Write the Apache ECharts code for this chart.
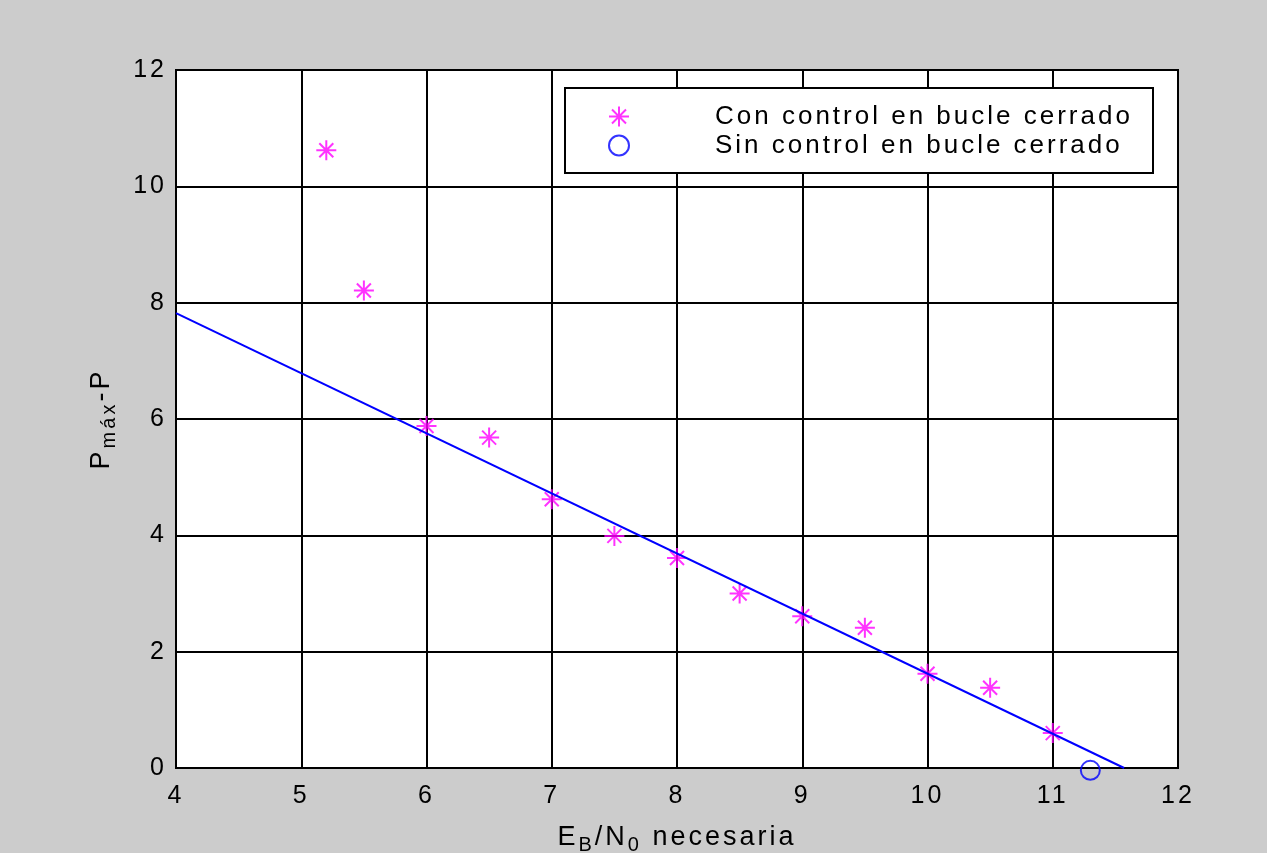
<!DOCTYPE html>
<html>
<head>
<meta charset="utf-8">
<script src="https://cdn.jsdelivr.net/npm/echarts@6/dist/echarts.min.js"></script>
<style>
html,body{margin:0;padding:0;background:#cccccc;overflow:hidden;}
#chart{width:1267px;height:853px;}
</style>
</head>
<body>
<div id="chart"></div>
<script>
// Data
const conX = [5.2, 5.5, 6, 6.5, 7, 7.5, 8, 8.5, 9, 9.5, 10, 10.5, 11];
const conY = [10.62, 8.21, 5.88, 5.68, 4.62, 3.99, 3.61, 3.0, 2.61, 2.41, 1.62, 1.38, 0.6];
const sinX = [11.3];
const sinY = [-0.04];
const fitX = [4, 11.57];
const fitY = [7.82, 0];
const seriesNames = ['Con control en bucle cerrado', 'Sin control en bucle cerrado'];
const xTicks = [4, 5, 6, 7, 8, 9, 10, 11, 12];
const yTicks = [0, 2, 4, 6, 8, 10, 12];

// MATLAB-style wide letter spacing for all canvas text
(function () {
  const P = CanvasRenderingContext2D.prototype;
  const LS = '3px';
  const mt = P.measureText, ft = P.fillText, st = P.strokeText;
  P.measureText = function (t) { this.letterSpacing = LS; return mt.call(this, t); };
  P.fillText = function () { this.letterSpacing = LS; return ft.apply(this, arguments); };
  P.strokeText = function () { this.letterSpacing = LS; return st.apply(this, arguments); };
})();

const zip = (a, b) => a.map((v, i) => [v, b[i]]);
const FONT = 'Liberation Sans, Arial, Helvetica, sans-serif';
const star = 'path://M0,-10L0,10M-10,0L10,0M-7,-7L7,7M-7,7L7,-7';
const subStyle = {fontSize: 20, padding: [16, 0, 0, 0], color: '#000', fontFamily: FONT};

const chart = echarts.init(document.getElementById('chart'), null, {renderer: 'canvas'});
chart.setOption({
  backgroundColor: '#cccccc',
  animation: false,
  textStyle: {fontFamily: FONT},
  grid: {left: 176, top: 70, right: 89, bottom: 85, containLabel: false, outerBoundsMode: 'none',
    show: true, backgroundColor: '#ffffff', borderColor: '#000000', borderWidth: 2},
  xAxis: {
    type: 'value', min: xTicks[0], max: xTicks[xTicks.length - 1], interval: 1,
    axisLine: {lineStyle: {color: '#000', width: 2}},
    axisTick: {show: false},
    splitLine: {lineStyle: {color: '#000', width: 2}},
    axisLabel: {color: '#000', fontSize: 25, margin: 14, fontFamily: FONT},
    name: 'E{sub|B}/N{sub|0} necesaria',
    nameLocation: 'middle', nameGap: 50,
    nameTextStyle: {color: '#000', fontSize: 27, fontFamily: FONT, rich: {sub: subStyle}}
  },
  yAxis: {
    type: 'value', min: yTicks[0], max: yTicks[yTicks.length - 1], interval: 2,
    axisLine: {lineStyle: {color: '#000', width: 2}},
    axisTick: {show: false},
    splitLine: {lineStyle: {color: '#000', width: 2}},
    axisLabel: {color: '#000', fontSize: 25, margin: 9, fontFamily: FONT},
    name: 'P{sub|máx}-P',
    nameLocation: 'middle', nameGap: 55, nameRotate: 90,
    nameTextStyle: {color: '#000', fontSize: 27, fontFamily: FONT, rich: {sub: subStyle}}
  },
  graphic: [{
    type: 'rect', left: 564, top: 87, z: 10,
    shape: {width: 588, height: 85},
    style: {fill: '#ffffff', stroke: '#000000', lineWidth: 2}
  }],
  legend: {
    orient: 'vertical', left: 564, top: 87, z: 11,
    padding: [15, 0, 0, 44],
    itemWidth: 24, itemHeight: 20, itemGap: 0,
    data: seriesNames,
    textStyle: {color: '#000', fontSize: 26, lineHeight: 26, fontFamily: FONT, padding: [0, 0, 0, 79]}
  },
  series: [
    {
      name: seriesNames[0], type: 'scatter', data: zip(conX, conY),
      symbol: star, symbolSize: 20, clip: false,
      itemStyle: {color: 'rgba(0,0,0,0)', borderColor: '#ff00ff', borderWidth: 2}
    },
    {
      name: seriesNames[1], type: 'scatter', data: zip(sinX, sinY),
      symbol: 'circle', symbolSize: 19, clip: false,
      itemStyle: {color: 'rgba(0,0,0,0)', borderColor: '#0000ff', borderWidth: 2}
    },
    {
      name: 'fit', type: 'line', data: zip(fitX, fitY),
      symbol: 'none', lineStyle: {color: '#0000ff', width: 2}, z: 3
    }
  ]
});
</script>
</body>
</html>
